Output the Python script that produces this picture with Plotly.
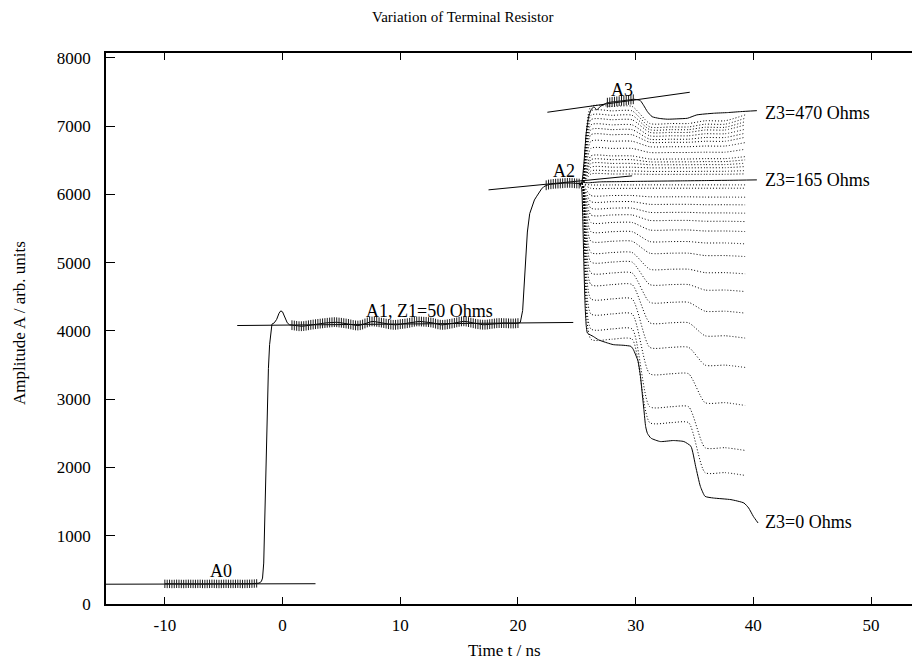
import plotly.graph_objects as go

# ---------------- data ----------------
# A0 window (baseline samples), ns / arb. units
a0_t = [-10.0, -9.8, -9.6, -9.4, -9.2, -9.0, -8.8, -8.6, -8.4, -8.2, -8.0, -7.8, -7.6, -7.4,
        -7.2, -7.0, -6.8, -6.6, -6.4, -6.2, -6.0, -5.8, -5.6, -5.4, -5.2, -5.0, -4.8, -4.6,
        -4.4, -4.2, -4.0, -3.8, -3.6, -3.4, -3.2, -3.0, -2.8, -2.6, -2.4, -2.2]
a0_v = [296, 294, 295, 293, 294, 296, 295, 294, 293, 295, 296, 295, 294, 294, 295, 296, 294,
        293, 294, 295, 296, 295, 294, 293, 294, 295, 296, 295, 294, 294, 295, 296, 295, 293,
        294, 295, 296, 297, 299, 302]

# first rise and overshoot bump
rise1_t = [-2.0, -1.8, -1.7, -1.6, -1.5, -1.4, -1.3, -1.2, -1.1, -1.0, -0.9, -0.7, -0.5,
           -0.3, -0.15, 0.0, 0.2, 0.4, 0.6]
rise1_v = [306, 330, 380, 600, 1400, 2300, 3000, 3450, 3800, 4000, 4100, 4120, 4170, 4260,
           4295, 4280, 4200, 4120, 4090]

# A1 window
a1_t = [0.8, 1.0, 1.2, 1.4, 1.6, 1.8, 2.0, 2.2, 2.4, 2.6, 2.8, 3.0, 3.2, 3.4, 3.6, 3.8, 4.0,
        4.2, 4.4, 4.6, 4.8, 5.0, 5.2, 5.4, 5.6, 5.8, 6.0, 6.2, 6.4, 6.6, 6.8, 7.0, 7.2, 7.4,
        7.6, 7.8, 8.0, 8.2, 8.4, 8.6, 8.8, 9.0, 9.2, 9.4, 9.6, 9.8, 10.0, 10.2, 10.4, 10.6,
        10.8, 11.0, 11.2, 11.4, 11.6, 11.8, 12.0, 12.2, 12.4, 12.6, 12.8, 13.0, 13.2, 13.4,
        13.6, 13.8, 14.0, 14.2, 14.4, 14.6, 14.8, 15.0, 15.2, 15.4, 15.6, 15.8, 16.0, 16.2,
        16.4, 16.6, 16.8, 17.0, 17.2, 17.4, 17.6, 17.8, 18.0, 18.2, 18.4, 18.6, 18.8, 19.0,
        19.2, 19.4, 19.6, 19.8, 20.0]
a1_v = [4085, 4080, 4075, 4070, 4070, 4072, 4078, 4084, 4090, 4095, 4100, 4104, 4108, 4112,
        4116, 4120, 4124, 4127, 4130, 4128, 4124, 4120, 4115, 4110, 4104, 4096, 4088, 4082,
        4080, 4085, 4095, 4110, 4125, 4136, 4140, 4138, 4134, 4128, 4122, 4116, 4108, 4100,
        4094, 4090, 4090, 4094, 4100, 4104, 4108, 4114, 4120, 4128, 4135, 4140, 4140, 4138,
        4136, 4134, 4130, 4125, 4118, 4108, 4098, 4092, 4090, 4092, 4098, 4104, 4110, 4118,
        4126, 4134, 4140, 4142, 4138, 4130, 4122, 4114, 4106, 4100, 4095, 4092, 4092, 4095,
        4100, 4105, 4110, 4114, 4116, 4116, 4115, 4114, 4112, 4110, 4110, 4112, 4115]

# second rise
rise2_t = [20.2, 20.4, 20.6, 20.8, 21.0, 21.2, 21.4, 21.6, 21.8, 22.0, 22.2]
rise2_v = [4125, 4300, 4900, 5450, 5720, 5840, 5920, 5975, 6030, 6080, 6115]

# A2 window
a2_t = [22.4, 22.6, 22.8, 23.0, 23.2, 23.4, 23.6, 23.8, 24.0, 24.2, 24.4, 24.6, 24.8, 25.0, 25.2]
a2_v = [6135, 6145, 6150, 6155, 6158, 6160, 6162, 6165, 6168, 6170, 6170, 6168, 6165, 6162, 6160]

# A3 window (on the Z3=470 Ohms curve)
a3_t = [27.6, 27.8, 28.0, 28.2, 28.4, 28.6, 28.8, 29.0, 29.2, 29.4, 29.6, 29.8]
a3_v = [7345, 7350, 7356, 7360, 7364, 7368, 7372, 7376, 7380, 7385, 7390, 7395]

# Z3 = 470 Ohms curve (before / after A3 window)
z470_head_t = [25.2, 25.4, 25.6, 25.8, 26.0, 26.2, 26.45, 26.7, 27.0, 27.3]
z470_head_v = [6160, 6165, 6450, 6900, 7130, 7237, 7285, 7240, 7290, 7320]
z470_tail_t = [30.1, 30.4, 30.7, 31.0, 31.4, 32.0, 32.7, 33.5, 34.4, 35.2, 36.6, 37.8, 38.9, 40.3]
z470_tail_v = [7390, 7375, 7300, 7214, 7140, 7115, 7103, 7108, 7117, 7166, 7190, 7200, 7214, 7228]

# Z3 = 165 Ohms curve (matched)
z165_t = [25.2, 25.5, 26.0, 27.0, 28.5, 30.0, 32.0, 34.0, 36.0, 38.0, 40.3]
z165_v = [6160, 6175, 6172, 6185, 6188, 6192, 6196, 6200, 6204, 6208, 6214]

# Z3 = 0 Ohms curve (short)
z0_t = [25.2, 25.4, 25.5, 25.6, 25.7, 25.8, 25.9, 26.4, 26.85, 27.6, 28.1, 29.0, 29.6, 29.8,
        30.2, 30.4, 30.55, 30.7, 30.85, 31.0, 31.3, 32.1, 33.2, 34.1, 34.7, 35.1, 35.5, 35.9,
        36.6, 38.1, 39.2, 39.6, 40.0, 40.4]
z0_v = [6160, 6100, 5700, 5000, 4400, 4080, 3970, 3920, 3870, 3825, 3800, 3790, 3775, 3730,
        3560, 3350, 3100, 2850, 2600, 2500, 2430, 2380, 2395, 2380, 2310, 2015, 1723, 1577,
        1553, 1529, 1480, 1407, 1284, 1187]

# intermediate terminal resistors (dotted): plateau levels
fam_t = [25.2, 25.45, 26.2, 28.0, 29.7, 31.2, 33.0, 34.5, 35.9, 37.6, 39.3]
fam_start = [6160, 6155]
fam_L1 = [7290, 7225, 7160, 7095, 7020, 6950, 6875, 6780, 6675, 6565, 6510, 6455, 6400, 6345,
          6300, 6140, 6090, 5985, 5895, 5800, 5700, 5590, 5455, 5315, 5150, 5010, 4850, 4680,
          4470, 4250, 4030, 3880]
fam_L2 = [7040, 6990, 6950, 6910, 6860, 6810, 6765, 6700, 6615, 6520, 6478, 6436, 6390, 6338,
          6295, 6141, 6092, 5966, 5856, 5738, 5620, 5480, 5310, 5140, 4905, 4680, 4420, 4120,
          3760, 3373, 2890, 2657]
fam_L3 = [7080, 7030, 6985, 6945, 6890, 6835, 6780, 6710, 6620, 6525, 6482, 6438, 6392, 6340,
          6296, 6141, 6092, 5962, 5850, 5730, 5608, 5465, 5290, 5105, 4855, 4600, 4290, 3930,
          3500, 2950, 2290, 1925]
fam_end = [7166, 7117, 7067, 7019, 6956, 6898, 6839, 6760, 6663, 6555, 6507, 6458, 6409, 6350,
           6302, 6141, 6092, 5960, 5848, 5726, 5603, 5457, 5277, 5091, 4838, 4578, 4262, 3896,
           3466, 2909, 2250, 1884]

# fitted level lines
fitA0_t, fitA0_v = [-15.0, 2.8], [290, 297]
fitA1_t, fitA1_v = [-3.85, 24.7], [4080, 4125]
fitA2_t, fitA2_v = [17.5, 29.7], [6068, 6273]
fitA3_t, fitA3_v = [22.5, 34.6], [7205, 7498]

x_ticks = [-10, 0, 10, 20, 30, 40, 50]
x_ticktext = ["-10", "0", "10", "20", "30", "40", "50"]
y_ticks = [0, 1000, 2000, 3000, 4000, 5000, 6000, 7000, 8000]
y_ticktext = ["0", "1000", "2000", "3000", "4000", "5000", "6000", "7000", "8000"]

FONT = "Liberation Serif, Times New Roman, serif"

fig = go.Figure()

# dotted family
for i in range(len(fam_L1)):
    ys = fam_start + [fam_L1[i]] * 3 + [fam_L2[i]] * 3 + [fam_L3[i]] * 2 + [fam_end[i]]
    fig.add_trace(go.Scatter(x=fam_t, y=ys, mode="lines",
                             line=dict(color="black", width=1, dash="1px,2px",
                                       shape="spline", smoothing=0.6),
                             hoverinfo="skip"))

# main solid curve
main_t = a0_t + rise1_t + a1_t + rise2_t + a2_t
main_v = a0_v + rise1_v + a1_v + rise2_v + a2_v
fig.add_trace(go.Scatter(x=main_t, y=main_v, mode="lines",
                         line=dict(color="black", width=1)))

for xs, ys in [(z470_head_t + a3_t + z470_tail_t, z470_head_v + a3_v + z470_tail_v),
               (z165_t, z165_v), (z0_t, z0_v)]:
    fig.add_trace(go.Scatter(x=xs, y=ys, mode="lines",
                             line=dict(color="black", width=1, shape="spline", smoothing=0.5)))

# fit lines
for xs, ys in [(fitA0_t, fitA0_v), (fitA1_t, fitA1_v), (fitA2_t, fitA2_v), (fitA3_t, fitA3_v)]:
    fig.add_trace(go.Scatter(x=xs, y=ys, mode="lines", line=dict(color="black", width=1)))

# samples used for the fits (vertical tick markers)
for (xs, ys), msize in [((a0_t, a0_v), 6), ((a1_t, a1_v), 7), ((a2_t, a2_v), 7), ((a3_t, a3_v), 7)]:
    fig.add_trace(go.Scatter(x=xs, y=ys, mode="markers",
                             marker=dict(symbol="line-ns", size=msize,
                                         line=dict(width=1, color="#1a1a1a"))))

# dummy trace for the mirrored right-side ticks
fig.add_trace(go.Scatter(x=[None], y=[None], yaxis="y2", mode="lines", showlegend=False))

ann = []
def lab(text, x, y, xanchor="center"):
    ann.append(dict(text=text, x=x, y=y, xref="x", yref="y", showarrow=False,
                    xanchor=xanchor, yanchor="middle",
                    font=dict(family=FONT, size=18, color="black")))

lab("A0", -5.2, 480)
lab("A1, Z1=50 Ohms", 12.5, 4290)
lab("A2", 23.9, 6350)
lab("A3", 28.85, 7530)
lab("Z3=470 Ohms", 40.8, 7195, "left")
lab("Z3=165 Ohms", 40.8, 6214, "left")
lab("Z3=0 Ohms", 40.8, 1196, "left")

# page has an 8px body margin: figure is 912x653, offset by 8px
# plot area in page pixels: x 106..920, y 53..604
ann.append(dict(text="Variation of Terminal Resistor", x=0.4386, y=1.0653, xref="paper", yref="paper",
                showarrow=False, xanchor="center", yanchor="middle",
                font=dict(family=FONT, size=15, color="black")))
ann.append(dict(text="Time t / ns", x=0.49, y=-0.0835, xref="paper", yref="paper",
                showarrow=False, xanchor="center", yanchor="middle",
                font=dict(family=FONT, size=17, color="black")))
ann.append(dict(text="Amplitude A / arb. units", x=-0.1057, y=0.51, xref="paper", yref="paper",
                showarrow=False, xanchor="center", yanchor="middle", textangle=-90,
                font=dict(family=FONT, size=17, color="black")))

axis_font = dict(family=FONT, size=17, color="black")
fig.update_layout(
    width=912, height=653,
    margin=dict(l=98, r=0, t=45, b=57),
    plot_bgcolor="white", paper_bgcolor="white",
    showlegend=False,
    annotations=ann,
    xaxis=dict(range=[-15, 54.16], tickvals=x_ticks, ticktext=x_ticktext, ticks="inside",
               ticklen=7, tickwidth=1,
               tickcolor="black", showline=True, linecolor="black", linewidth=1.5,
               mirror="ticks", showgrid=False, zeroline=False, tickfont=axis_font,
               ticklabelstandoff=5),
    yaxis=dict(range=[0, 8073], tickvals=y_ticks, ticktext=y_ticktext, ticks="inside",
               ticklen=9, tickwidth=1,
               tickcolor="black", showline=True, linecolor="black", linewidth=1.5,
               showgrid=False, zeroline=False, tickfont=axis_font, ticklabelstandoff=10),
    yaxis2=dict(overlaying="y", side="right", range=[0, 8073], tickvals=y_ticks,
                ticks="inside", ticklen=3, tickwidth=1, tickcolor="black",
                showticklabels=False, showline=False, showgrid=False, zeroline=False),
)

fig.write_html("out.html")
